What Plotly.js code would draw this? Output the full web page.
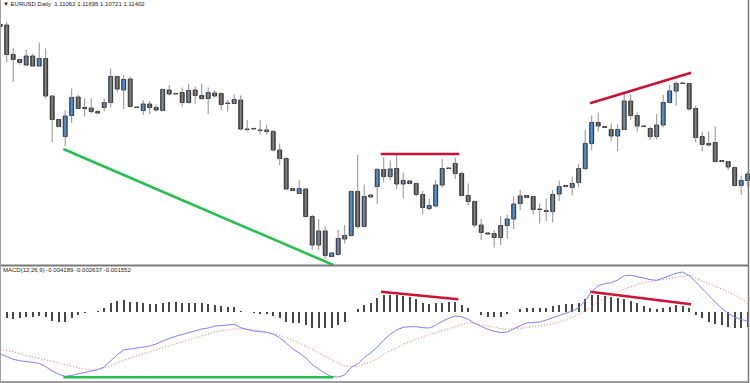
<!DOCTYPE html>
<html>
<head>
<meta charset="utf-8">
<script src="https://cdn.plot.ly/plotly-3.0.1.min.js"></script>
<style>html,body{margin:0;padding:0;background:#fff;}#chart{width:750px;height:383px;}</style>
</head>
<body>
<div id="chart"></div>
<script>
// ---- Price data (EURUSD, Daily) ----
const open = [
1.18675,1.1875,1.17275,1.17025,1.1675,1.172,1.167,1.17075,1.152,1.14025,
1.13175,1.14225,1.1515,1.14625,1.146,1.14425,1.14625,1.14875,1.16175,1.155,
1.1605,1.1465,1.14475,1.148,1.14625,1.14475,1.155,1.15325,1.15375,1.14875,
1.155,1.15225,1.15075,1.1535,1.15325,1.1485,1.14825,1.15,1.1355,1.13575,
1.135,1.135,1.13425,1.125,1.12075,1.10575,1.10325,1.1055,1.09175,1.0775,
1.0845,1.07175,1.07275,1.0805,1.08225,1.10425,1.08675,1.1015,1.10675,1.11525,
1.11175,1.11575,1.108,1.1095,1.10825,1.10275,1.09575,1.097,1.1075,1.116,
1.11825,1.11325,1.10225,1.09925,1.0875,1.0835,1.08325,1.08125,1.08725,1.0905,
1.09825,1.10225,1.10175,1.0955,1.09475,1.09425,1.103,1.10675,1.10625,1.10875,
1.11575,1.12825,1.13875,1.13675,1.13525,1.132,1.13525,1.1495,1.14225,1.137,
1.13575,1.13175,1.1375,1.14875,1.1545,1.1585,1.15825,1.14575,1.13175,1.12825,
1.12875,1.11975,1.11925,1.11625,1.10725,1.10975];
const high = [
1.188,1.189,1.176,1.1705,1.175,1.173,1.17875,1.17575,1.15225,1.1405,
1.145,1.15575,1.1525,1.15075,1.15075,1.14525,1.15075,1.16575,1.16225,1.1625,
1.16175,1.14675,1.15,1.1495,1.14775,1.15575,1.1575,1.15375,1.15625,1.158,
1.15675,1.15825,1.15625,1.155,1.15375,1.15,1.15275,1.15225,1.14,1.13625,
1.14,1.13775,1.135,1.12825,1.12125,1.106,1.11,1.10575,1.0925,1.0905,
1.08675,1.07375,1.085,1.0875,1.10475,1.1225,1.10775,1.103,1.116,1.12125,
1.11975,1.12275,1.11375,1.11,1.10875,1.1045,1.10075,1.11,1.1205,1.11625,
1.12125,1.11425,1.10825,1.09975,1.0905,1.08375,1.085,1.09175,1.0925,1.10175,
1.105,1.1025,1.102,1.09825,1.10075,1.105,1.10975,1.1075,1.11175,1.118,
1.135,1.14225,1.14375,1.137,1.13825,1.13775,1.15325,1.1525,1.14375,1.13725,
1.13675,1.143,1.1525,1.1575,1.15925,1.15875,1.1585,1.14725,1.13425,1.13425,
1.13675,1.12,1.1195,1.11675,1.11225,1.11425];
const low = [
1.18625,1.169,1.159,1.16775,1.167,1.1665,1.1665,1.15075,1.129,1.13625,
1.127,1.1385,1.1455,1.14175,1.14325,1.143,1.14425,1.14625,1.15375,1.1455,
1.14625,1.146,1.1425,1.143,1.14425,1.14425,1.15225,1.15275,1.14675,1.14825,
1.14825,1.15,1.143,1.15125,1.14475,1.14425,1.148,1.13475,1.13425,1.13525,
1.13275,1.13275,1.12425,1.1175,1.10475,1.1045,1.103,1.09125,1.075,1.075,
1.07075,1.0715,1.07225,1.07825,1.08175,1.08575,1.08625,1.10125,1.098,1.10875,
1.10975,1.1055,1.10075,1.10775,1.10175,1.093,1.095,1.09625,1.10625,1.1155,
1.1105,1.10175,1.0975,1.08625,1.08,1.08275,1.07625,1.0775,1.0805,1.0855,
1.095,1.101,1.09275,1.08825,1.0895,1.08875,1.0995,1.1065,1.10225,1.10625,
1.115,1.125,1.13425,1.136,1.12925,1.1245,1.135,1.14,1.13425,1.1365,
1.13,1.13025,1.13625,1.14825,1.14725,1.158,1.14475,1.12875,1.12425,1.12675,
1.11875,1.119,1.115,1.10675,1.1025,1.10675];
const close = [
1.18775,1.17275,1.17025,1.16875,1.172,1.167,1.17075,1.152,1.14025,1.13675,
1.142,1.15125,1.14575,1.14575,1.14425,1.1435,1.14875,1.16175,1.1555,1.16025,
1.14675,1.14625,1.148,1.14625,1.145,1.15525,1.153,1.153,1.14875,1.15475,
1.15225,1.15075,1.15375,1.152,1.14775,1.14825,1.15025,1.1355,1.13525,1.1355,
1.13475,1.13425,1.125,1.12075,1.1055,1.10475,1.10575,1.09175,1.0775,1.0845,
1.07225,1.0735,1.08075,1.08225,1.10425,1.08675,1.10175,1.1025,1.11525,1.11175,
1.1155,1.108,1.10975,1.10825,1.10275,1.09625,1.09725,1.1075,1.11575,1.11575,
1.11325,1.10225,1.09925,1.0875,1.08375,1.083,1.08125,1.08725,1.0905,1.098,
1.102,1.10125,1.09525,1.09525,1.09425,1.10275,1.10675,1.10725,1.10825,1.11575,
1.12825,1.13875,1.137,1.13625,1.132,1.13525,1.1495,1.14225,1.137,1.13675,
1.13175,1.1375,1.14875,1.1545,1.15825,1.15825,1.1455,1.13125,1.12775,1.1275,
1.11925,1.11925,1.1165,1.10725,1.10975,1.113];

// ---- MACD(12,26,9) ----
const histogram = [
-0.00057,-0.00067,-0.00073,-0.00067,-0.00057,-0.00057,-0.00043,-0.00057,-0.00093,-0.00107,
-0.001,-0.00067,-0.00033,-0.0001,-0.00005,0.0001,0.00033,0.0009,0.00107,0.00117,
0.001,0.00093,0.00083,0.00073,0.00073,0.0009,0.00093,0.00093,0.0009,0.0009,
0.0009,0.00083,0.00077,0.00067,0.00057,0.0005,0.0005,0.0001,-0.00005,-0.00015,
-0.00023,-0.00023,-0.00043,-0.00067,-0.001,-0.0011,-0.00117,-0.00133,-0.0016,-0.0016,
-0.00167,-0.0016,-0.00133,-0.001,-0.00007,0.00023,0.00067,0.0009,0.0014,0.00167,
0.00167,0.00167,0.00157,0.00143,0.00123,0.0009,0.00073,0.00083,0.0009,0.001,
0.001,0.00067,0.00033,0.00002,-0.00033,-0.0005,-0.00057,-0.0005,-0.00023,-0.00005,
0.00023,0.00033,0.00033,0.00033,0.0004,0.00057,0.00067,0.00073,0.00073,0.0009,
0.00123,0.00167,0.00167,0.00157,0.00143,0.0014,0.00127,0.00107,0.0009,0.00057,
0.00033,0.00023,0.0004,0.0005,0.00067,0.00057,0.00033,-0.00033,-0.00067,-0.001,
-0.00127,-0.00133,-0.0015,-0.00167,-0.00167,-0.0015];
const macdLine = [
-0.0083,-0.00857,-0.00883,-0.00897,-0.00907,-0.00913,-0.00923,-0.00957,-0.01,-0.01033,
-0.01053,-0.01043,-0.0103,-0.0102,-0.01003,-0.00987,-0.0096,-0.00897,-0.00837,-0.0079,
-0.0078,-0.00773,-0.00763,-0.0075,-0.0073,-0.007,-0.00673,-0.00653,-0.00633,-0.00613,
-0.00597,-0.0058,-0.0057,-0.0055,-0.00547,-0.00543,-0.00533,-0.00567,-0.00583,-0.006,
-0.00607,-0.00613,-0.0063,-0.00667,-0.0072,-0.0078,-0.0082,-0.00867,-0.00937,-0.00983,
-0.01023,-0.01057,-0.0106,-0.0104,-0.00963,-0.0093,-0.00867,-0.00817,-0.00763,-0.0069,
-0.00633,-0.0059,-0.00563,-0.00557,-0.00557,-0.00567,-0.0057,-0.00543,-0.00503,-0.00473,
-0.0045,-0.00457,-0.00483,-0.00523,-0.00557,-0.00583,-0.00603,-0.00617,-0.0061,-0.00577,
-0.00547,-0.0052,-0.00513,-0.0051,-0.0049,-0.00467,-0.00443,-0.0042,-0.004,-0.00367,
-0.00297,-0.00207,-0.00147,-0.00127,-0.00117,-0.0009,-0.00047,-0.00043,-0.00053,-0.0007,
-0.00087,-0.00093,-0.0007,-0.00047,-0.00023,-0.0001,-0.00047,-0.0011,-0.0018,-0.00243,
-0.0031,-0.00373,-0.00423,-0.00463,-0.00483,-0.00503];
const signalLine = [
-0.00783,-0.00793,-0.00807,-0.00827,-0.0085,-0.0086,-0.00873,-0.00887,-0.00903,-0.0092,
-0.00937,-0.00953,-0.0097,-0.0098,-0.0099,-0.00987,-0.0097,-0.0095,-0.00917,-0.00893,
-0.00867,-0.00847,-0.00827,-0.00807,-0.00783,-0.00767,-0.00743,-0.00723,-0.00703,-0.00683,
-0.00663,-0.00647,-0.00627,-0.0061,-0.006,-0.0059,-0.0058,-0.0058,-0.00583,-0.0059,
-0.00597,-0.0061,-0.00623,-0.00643,-0.00663,-0.0069,-0.0072,-0.0075,-0.00783,-0.00817,
-0.00857,-0.0089,-0.00923,-0.0095,-0.00957,-0.00957,-0.0093,-0.0091,-0.0088,-0.00833,
-0.00797,-0.00773,-0.00733,-0.00707,-0.0068,-0.00657,-0.00637,-0.00617,-0.00593,-0.00573,
-0.0055,-0.0053,-0.00517,-0.00523,-0.0054,-0.0055,-0.00563,-0.00577,-0.00583,-0.0058,
-0.00573,-0.00567,-0.00557,-0.0055,-0.00543,-0.0053,-0.0051,-0.00487,-0.00463,-0.00433,
-0.004,-0.00357,-0.00307,-0.00273,-0.0024,-0.0021,-0.00183,-0.00157,-0.00133,-0.00117,
-0.00107,-0.001,-0.0009,-0.0008,-0.00067,-0.00053,-0.00043,-0.00073,-0.001,-0.00123,
-0.00147,-0.00173,-0.00207,-0.0024,-0.0028,-0.00317];

// ---- Hand-drawn trend lines (bar index, value) ----
const priceSupportX = [9.71, 51.25];   const priceSupportY = [1.1255, 1.0675];
const priceFlatTopX = [58.54, 70.63];  const priceFlatTopY = [1.123, 1.123];
const priceRisingTopX = [90.74, 106.28]; const priceRisingTopY = [1.14835, 1.16365];
const histTop1X = [58.58, 70.48];      const histTop1Y = [0.002, 0.00124];
const histTop2X = [90.74, 106.28];     const histTop2Y = [0.002, 0.00074];
const macdLowX = [9.71, 51.25];        const macdLowY = [-0.01063, -0.01063];

const headerText = '\u25BC EURUSD,Daily  1.11062 1.11695 1.10721 1.11402';
const macdText = 'MACD(12,26,9) -0.004189 -0.002637 -0.001552';

// ---- Build ----
const idx = open.map((_, i) => i);
const bodyColors = open.map((o, i) => close[i] >= o ? '#3d7ec0' : '#5e5e5e');
const bodySize = open.map((o, i) => close[i] - o);
const RED = '#cc1133', GREEN = '#22c04e';

const traces = [
  {type:'ohlc', x:idx, open:open, high:high, low:low, close:close, tickwidth:0,
   increasing:{line:{color:'#8e8e8e', width:1}}, decreasing:{line:{color:'#8e8e8e', width:1}},
   xaxis:'x', yaxis:'y', hoverinfo:'skip'},
  {type:'bar', x:idx, base:open, y:bodySize, width:0.6,
   marker:{color:bodyColors, line:{color:'#2e2e2e', width:1}}, xaxis:'x', yaxis:'y', hoverinfo:'skip'},
  {type:'scatter', mode:'lines', x:priceSupportX, y:priceSupportY, line:{color:GREEN, width:2.5}, xaxis:'x', yaxis:'y'},
  {type:'scatter', mode:'lines', x:priceFlatTopX, y:priceFlatTopY, line:{color:RED, width:2.5}, xaxis:'x', yaxis:'y'},
  {type:'scatter', mode:'lines', x:priceRisingTopX, y:priceRisingTopY, line:{color:RED, width:2.5}, xaxis:'x', yaxis:'y'},
  {type:'bar', x:idx, y:histogram, width:0.28, marker:{color:'#474747'}, xaxis:'x2', yaxis:'y2', hoverinfo:'skip'},
  {type:'scatter', mode:'lines', x:idx, y:signalLine, line:{color:'#f07878', width:1, dash:'1px,2px'}, xaxis:'x2', yaxis:'y3'},
  {type:'scatter', mode:'lines', x:idx, y:macdLine, line:{color:'#8080f4', width:1}, xaxis:'x2', yaxis:'y3'},
  {type:'scatter', mode:'lines', x:histTop1X, y:histTop1Y, line:{color:RED, width:2.5}, xaxis:'x2', yaxis:'y2'},
  {type:'scatter', mode:'lines', x:histTop2X, y:histTop2Y, line:{color:RED, width:2.5}, xaxis:'x2', yaxis:'y2'},
  {type:'scatter', mode:'lines', x:macdLowX, y:macdLowY, line:{color:GREEN, width:2.5}, xaxis:'x2', yaxis:'y3'}
];

const W = 750, H = 383;
const px = v => v / W, py = v => 1 - v / H;
const xr = [-0.0308, 115.354];
const border = '#7a7a7a';
const layout = {
  width:W, height:H, margin:{l:0,r:0,t:0,b:0},
  paper_bgcolor:'#ffffff', plot_bgcolor:'#ffffff', showlegend:false,
  xaxis:{domain:[0,1], range:xr, visible:false, anchor:'y', rangeslider:{visible:false}, fixedrange:true},
  yaxis:{domain:[py(265),1], range:[1.0675,1.2], visible:false, fixedrange:true},
  xaxis2:{domain:[0,1], range:xr, visible:false, anchor:'y2', fixedrange:true},
  yaxis2:{domain:[py(382),py(266)], range:[-0.00703,0.00457], visible:false, fixedrange:true},
  yaxis3:{overlaying:'y2', anchor:'x2', range:[-0.0111,0.0005], visible:false, fixedrange:true},
  bargap:0,
  shapes:[
    {type:'line', xref:'paper', yref:'paper', x0:0, x1:px(748.5), y0:py(265.5), y1:py(265.5), line:{color:border, width:2}},
    {type:'line', xref:'paper', yref:'paper', x0:0, x1:px(748.5), y0:py(382), y1:py(382), line:{color:border, width:1.5}},
    {type:'line', xref:'paper', yref:'paper', x0:px(748.5), x1:px(748.5), y0:0, y1:1, line:{color:border, width:1.5}},
    {type:'line', xref:'paper', yref:'paper', x0:px(0.5), x1:px(0.5), y0:0, y1:1, line:{color:'#a0a0a0', width:1}}
  ],
  annotations:[
    {xref:'paper', yref:'paper', x:px(1), y:py(4.2), xanchor:'left', yanchor:'middle', showarrow:false,
     text:headerText, font:{family:'Liberation Sans, Arial, sans-serif', size:6, color:'#222'}},
    {xref:'paper', yref:'paper', x:px(1), y:py(270.3), xanchor:'left', yanchor:'middle', showarrow:false,
     text:macdText, font:{family:'Liberation Sans, Arial, sans-serif', size:6, color:'#222'}}
  ]
};
Plotly.newPlot('chart', traces, layout, {displayModeBar:false, staticPlot:true});
</script>
</body>
</html>
